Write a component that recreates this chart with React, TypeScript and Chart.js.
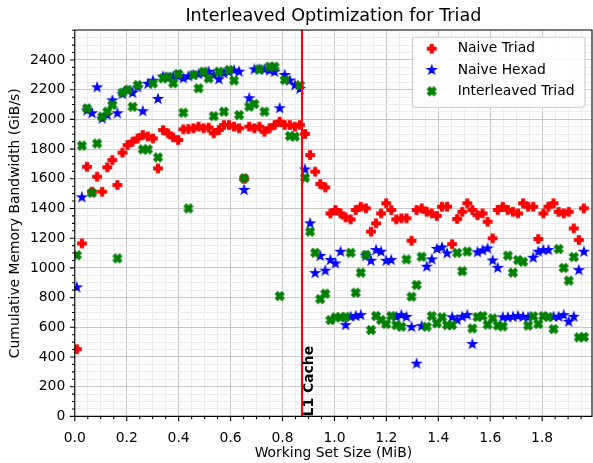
import React, { useEffect, useRef } from "react";
import { Chart, registerables } from "chart.js";

Chart.register(...registerables);

// ---- data ----
const sizesKiB = [
  8, 28, 48, 68, 88, 108, 128, 148, 168, 188,
  208, 228, 248, 268, 288, 308, 328, 348, 368, 388,
  408, 428, 448, 468, 488, 508, 528, 548, 568, 588,
  608, 628, 648, 668, 688, 708, 728, 748, 768, 788,
  808, 828, 848, 868, 888, 908, 928, 948, 968, 988,
  1008, 1028, 1048, 1068, 1088, 1108, 1128, 1148, 1168, 1188,
  1208, 1228, 1248, 1268, 1288, 1308, 1328, 1348, 1368, 1388,
  1408, 1428, 1448, 1468, 1488, 1508, 1528, 1548, 1568, 1588,
  1608, 1628, 1648, 1668, 1688, 1708, 1728, 1748, 1768, 1788,
  1808, 1828, 1848, 1868, 1888, 1908, 1928, 1948, 1968, 1988,
  2008,
];

const naiveTriad = [
  453, 1165, 1681, 1513, 1614, 1513, 1677, 1726, 1558, 1776,
  1827, 1850, 1872, 1895, 1885, 1872, 1670, 1928, 1906, 1879,
  1861, 1933, 1935, 1940, 1951, 1940, 1945, 1906, 1929, 1962,
  1962, 1951, 1940, 1600, 1951, 1940, 1951, 1917, 1940, 1962,
  1985, 1962, 1962, 1951, 1962, 1902, 1760, 1648, 1565, 1542,
  1367, 1390, 1367, 1340, 1327, 1390, 1412, 1401, 1244, 1300,
  1367, 1435, 1390, 1327, 1334, 1334, 1183, 1390, 1401, 1378,
  1367, 1350, 1412, 1412, 1160, 1330, 1378, 1435, 1390, 1355,
  1367, 1311, 1199, 1390, 1412, 1390, 1378, 1367, 1435, 1412,
  1412, 1195, 1367, 1412, 1435, 1378, 1367, 1378, 1266, 1188,
  1401,
];

const naiveHexad = [
  869, 1475, 2060, 2041, 2216, 2005, 2030, 2128, 2041, 2170,
  2195, 2178, 2216, 2055, 2240, 2260, 2138, 2288, 2280, 2288,
  2290, 2277, 2290, 2299, 2305, 2310, 2321, 2300, 2270, 2310,
  2320, 2330, 2321, 1525, 2142, 2337, 2337, 2337, 2330, 2320,
  2075, 2299, 2262, 2230, 2205, 1663, 1300, 965, 1080, 981,
  1053, 1030, 1109, 615, 671, 676, 682, 1080, 1048, 1120,
  1109, 1048, 1053, 671, 682, 670, 602, 355, 608, 1008,
  1057, 1128, 1138, 1098, 667, 649, 671, 682, 487, 1105,
  1118, 1131, 1050, 1000, 667, 667, 671, 676, 671, 667,
  1068, 1109, 1120, 1120, 671, 671, 682, 637, 671, 985,
  1109,
];

const interleavedTriad = [
  1086, 1823, 2074, 1506, 1838, 2018, 2052, 2097, 1064, 2180,
  2198, 2085, 2231, 1798, 1798, 2242, 1744, 2276, 2287, 2243,
  2306, 2045, 1400, 2299, 2209, 2321, 2276, 2022, 2321, 2052,
  2332, 2262, 2029, 1603, 2086, 2104, 2337, 2052, 2355, 2355,
  810, 2265, 1888, 1884, 2230, 1607, 1244, 1102, 790, 826,
  649, 667, 667, 671, 1102, 833, 968, 1087, 582, 676,
  649, 622, 676, 615, 604, 1057, 806, 885, 1075, 604,
  676, 627, 667, 615, 615, 1102, 978, 1110, 592, 669,
  676, 618, 660, 612, 606, 1083, 968, 1053, 1041, 612,
  674, 622, 676, 669, 588, 1127, 1000, 914, 1073, 532,
  535,
];

const seriesNames = ["Naive Triad", "Naive Hexad", "Interleaved Triad"];
const seriesColors = ["#ff0000", "#0000ff", "#008000"];
const xTickLabels = ["0.0", "0.2", "0.4", "0.6", "0.8", "1.0", "1.2", "1.4", "1.6", "1.8"];
const yTickLabels = ["0", "200", "400", "600", "800", "1000", "1200", "1400", "1600", "1800", "2000", "2200", "2400"];
const l1CacheMiB = 0.875;
const l1Label = "L1 Cache";
const chartTitle = "Interleaved Optimization for Triad";
const xTitle = "Working Set Size (MiB)";
const yTitle = "Cumulative Memory Bandwidth (GiB/s)";

const X_MAX = 1.992;
const Y_MAX = 2602;
const X_MINOR = 0.05;
const Y_MINOR = 50;

const FAMILY = "'DejaVu Sans', sans-serif";
const FS = 13.9;

function makeMarker(kind: string, color: string): HTMLCanvasElement {
  const c = document.createElement("canvas");
  c.width = 16;
  c.height = 16;
  const g = c.getContext("2d")!;
  g.translate(8, 8);
  const s = 8.33;
  let pts: number[][] = [];
  if (kind === "plus") {
    pts = [[-1, -3], [-1, -1], [-3, -1], [-3, 1], [-1, 1], [-1, 3], [1, 3], [1, 1], [3, 1], [3, -1], [1, -1], [1, -3]].map(
      ([a, b]) => [(a / 6) * s, (b / 6) * s]
    );
  } else if (kind === "x") {
    pts = [[-1, -2], [0, -1], [1, -2], [2, -1], [1, 0], [2, 1], [1, 2], [0, 1], [-1, 2], [-2, 1], [-1, 0], [-2, -1]].map(
      ([a, b]) => [(a / 4) * s, (b / 4) * s]
    );
  } else {
    const R = 0.5 * s * 1.05;
    for (let k = 0; k < 10; k++) {
      const r = k % 2 === 0 ? R : R * 0.381966;
      const ang = -Math.PI / 2 + (k * Math.PI) / 5;
      pts.push([r * Math.cos(ang), r * Math.sin(ang)]);
    }
  }
  g.beginPath();
  pts.forEach(([a, b], i) => (i === 0 ? g.moveTo(a, b) : g.lineTo(a, b)));
  g.closePath();
  g.fillStyle = color;
  g.strokeStyle = color;
  g.lineWidth = 1.39;
  g.lineJoin = "miter";
  g.fill();
  g.stroke();
  return c;
}

export default function App() {
  const ref = useRef<HTMLCanvasElement>(null);

  useEffect(() => {
    const canvas = ref.current!;
    const xMajor = xTickLabels.map(Number);
    const yMajor = yTickLabels.map(Number);
    const xAll: number[] = [];
    for (let k = 0; k * X_MINOR <= X_MAX + 1e-9; k++) xAll.push(+(k * X_MINOR).toFixed(2));
    const yAll: number[] = [];
    for (let v = 0; v <= Y_MAX; v += Y_MINOR) yAll.push(v);
    const isMajorX = (v: number) => xMajor.some((m) => Math.abs(m - v) < 1e-6);
    const isMajorY = (v: number) => yMajor.some((m) => Math.abs(m - v) < 1e-6);

    const markers = [makeMarker("plus", seriesColors[0]), makeMarker("star", seriesColors[1]), makeMarker("x", seriesColors[2])];
    const toPts = (ys: number[]) => ys.map((y, i) => ({ x: sizesKiB[i] / 1024, y }));
    const series = [naiveTriad, naiveHexad, interleavedTriad];

    const decor = {
      id: "decor",
      afterDatasetsDraw(chart: any) {
        const ctx = chart.ctx;
        const { left, right, top, bottom } = chart.chartArea;
        const xs = chart.scales.x;
        ctx.save();
        // L1 cache line
        const lx = xs.getPixelForValue(l1CacheMiB);
        ctx.strokeStyle = "#ff0000";
        ctx.lineWidth = 2.08;
        ctx.beginPath();
        ctx.moveTo(lx, top);
        ctx.lineTo(lx, bottom);
        ctx.stroke();
        // L1 label
        ctx.save();
        ctx.translate(lx + 10.6, bottom);
        ctx.rotate(-Math.PI / 2);
        ctx.font = `bold ${FS}px ${FAMILY}`;
        ctx.fillStyle = "#000";
        ctx.textAlign = "left";
        ctx.textBaseline = "alphabetic";
        ctx.fillText(l1Label, 0, 0);
        ctx.restore();
        // spines
        ctx.strokeStyle = "#000";
        ctx.lineWidth = 1.1;
        ctx.beginPath();
        ctx.moveTo(left, bottom);
        ctx.lineTo(left, top);
        ctx.lineTo(right, top);
        ctx.lineTo(right, bottom);
        ctx.closePath();
        ctx.stroke();
        // tick marks
        const ys = chart.scales.y;
        ctx.beginPath();
        xAll.forEach((v) => {
          const p = xs.getPixelForValue(v);
          const len = isMajorX(v) ? 4.9 : 2.8;
          ctx.moveTo(p, bottom);
          ctx.lineTo(p, bottom + len);
        });
        yAll.forEach((v) => {
          const p = ys.getPixelForValue(v);
          const len = isMajorY(v) ? 4.9 : 2.8;
          ctx.moveTo(left, p);
          ctx.lineTo(left - len, p);
        });
        ctx.stroke();
        ctx.restore();
      },
      afterDraw(chart: any) {
        const ctx = chart.ctx;
        const { left, right, top } = chart.chartArea;
        ctx.save();
        // title
        ctx.font = `17.6px ${FAMILY}`;
        ctx.fillStyle = "#000";
        ctx.textAlign = "center";
        ctx.textBaseline = "alphabetic";
        ctx.fillText(chartTitle, (left + right) / 2, top - 9.5);
        // legend
        const bx = 412.3, by = top + 7.3, bw = right - 7 - bx, bh = 70;
        ctx.beginPath();
        (ctx as any).roundRect(bx, by, bw, bh, 3);
        ctx.fillStyle = "rgba(255,255,255,0.85)";
        ctx.fill();
        ctx.strokeStyle = "#cccccc";
        ctx.lineWidth = 1.1;
        ctx.stroke();
        ctx.font = `${FS}px ${FAMILY}`;
        ctx.fillStyle = "#000";
        ctx.textAlign = "left";
        ctx.textBaseline = "middle";
        seriesNames.forEach((name, k) => {
          const cy = by + 11.4 + k * 21.3;
          ctx.drawImage(markers[k], 431.7 - 8, cy - 8);
          ctx.fillText(name, 457.7, cy);
        });
        ctx.restore();
      },
    };

    const chart = new Chart(canvas, {
      type: "scatter",
      data: {
        datasets: series.map((ys, k) => ({
          label: seriesNames[k],
          data: toPts(ys),
          pointStyle: markers[k] as any,
          pointRadius: 5,
          backgroundColor: seriesColors[k],
          borderColor: seriesColors[k],
          order: 3 - k,
          clip: 0,
        })),
      },
      options: {
        responsive: false,
        animation: false,
        devicePixelRatio: 1,
        events: [],
        layout: { padding: { top: 30, right: 2, left: 0, bottom: 0 } },
        plugins: { legend: { display: false }, title: { display: false }, tooltip: { enabled: false } },
        scales: {
          x: {
            type: "linear",
            min: 0,
            max: X_MAX,
            afterBuildTicks: (s: any) => {
              s.ticks = xAll.map((v) => ({ value: v }));
            },
            afterFit: (s: any) => {
              s.height = 46.6;
            },
            border: { display: false },
            grid: {
              drawTicks: false,
              lineWidth: 1,
              color: (c: any) => (isMajorX(c.tick.value) ? "#c9c9c9" : "#ececec"),
            },
            ticks: {
              autoSkip: false,
              maxRotation: 0,
              minRotation: 0,
              padding: 14,
              color: "#000",
              font: { family: FAMILY, size: FS },
              callback: (v: any) => {
                const i = xMajor.findIndex((m) => Math.abs(m - v) < 1e-6);
                return i >= 0 ? xTickLabels[i] : "";
              },
            },
            title: {
              display: true,
              text: xTitle,
              color: "#000",
              font: { family: FAMILY, size: FS },
              padding: { top: 0, bottom: 1.2 },
            },
          },
          y: {
            type: "linear",
            min: 0,
            max: Y_MAX,
            afterBuildTicks: (s: any) => {
              s.ticks = yAll.map((v) => ({ value: v }));
            },
            afterFit: (s: any) => {
              s.width = 74.8;
            },
            border: { display: false },
            grid: {
              drawTicks: false,
              lineWidth: 1,
              color: (c: any) => (isMajorY(c.tick.value) ? "#c9c9c9" : "#ececec"),
            },
            ticks: {
              autoSkip: false,
              padding: 9.5,
              color: "#000",
              font: { family: FAMILY, size: FS },
              callback: (v: any) => {
                const i = yMajor.findIndex((m) => Math.abs(m - v) < 1e-6);
                return i >= 0 ? yTickLabels[i] : "";
              },
            },
            title: {
              display: true,
              text: yTitle,
              color: "#000",
              font: { family: FAMILY, size: FS },
              padding: { top: 7, bottom: 0 },
            },
          },
        },
      },
      plugins: [decor],
    } as any);

    return () => chart.destroy();
  }, []);

  return (
    <div
      style={{
        position: "fixed",
        left: 0,
        top: 0,
        width: 593,
        height: 463,
        overflow: "hidden",
        background: "#fff",
      }}
    >
      <canvas ref={ref} width={598} height={463} style={{ display: "block" }} />
    </div>
  );
}
